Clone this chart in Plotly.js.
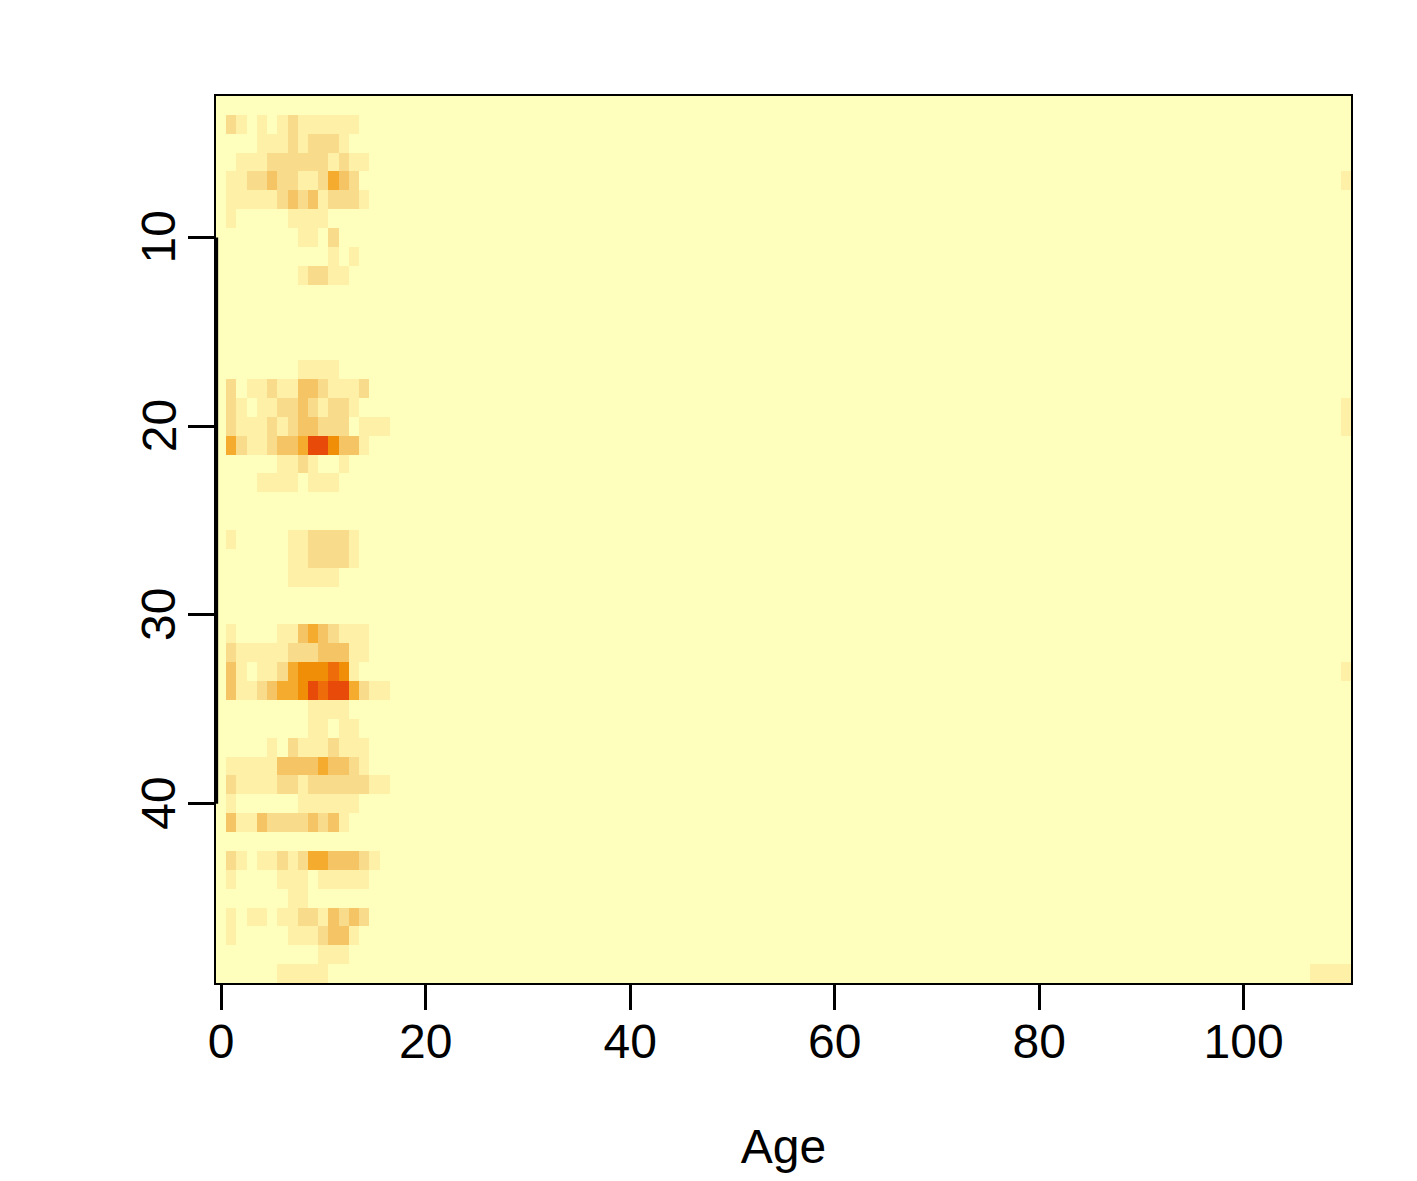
<!DOCTYPE html>
<html>
<head>
<meta charset="utf-8">
<script src="https://cdn.plot.ly/plotly-3.0.1.min.js"></script>
<style>
    html, body { margin: 0; padding: 0; background: white; }
    #plot { width: 1417px; height: 1181px; }
</style>
</head>
<body>
<div id="plot"></div>
<script>
const ages = Array.from({ length: 111 }, (_, i) => i);
const rows = Array.from({ length: 47 }, (_, i) => i + 3);
const xTicks = [0, 20, 40, 60, 80, 100];
const yTicks = [10, 20, 30, 40];

// colour step of each cell, ages 0 to 16, rows 3 to 49
const lowAgeLevels = [
    [0,0,0,0,0,0,0,0,0,0,0,0,0,0,0,0,0],
    [0,2,1,0,1,0,1,2,1,1,1,1,1,1,0,0,0],
    [0,0,0,0,1,1,1,2,1,2,2,2,1,0,0,0,0],
    [0,0,1,1,1,2,2,2,2,2,2,1,2,1,1,0,0],
    [0,1,1,2,2,3,2,2,1,1,2,4,3,2,0,0,0],
    [0,1,1,1,1,1,2,3,2,3,1,2,2,2,1,0,0],
    [0,1,0,0,0,0,0,1,1,1,1,0,0,0,0,0,0],
    [0,0,0,0,0,0,0,0,1,1,0,2,0,0,0,0,0],
    [0,0,0,0,0,0,0,0,0,0,0,1,0,1,0,0,0],
    [0,0,0,0,0,0,0,0,1,2,2,1,1,0,0,0,0],
    [0,0,0,0,0,0,0,0,0,0,0,0,0,0,0,0,0],
    [0,0,0,0,0,0,0,0,0,0,0,0,0,0,0,0,0],
    [0,0,0,0,0,0,0,0,0,0,0,0,0,0,0,0,0],
    [0,0,0,0,0,0,0,0,0,0,0,0,0,0,0,0,0],
    [0,0,0,0,0,0,0,0,1,1,1,1,0,0,0,0,0],
    [0,2,0,1,1,2,1,1,3,3,2,1,1,1,2,0,0],
    [0,2,1,0,1,1,2,2,3,2,1,2,2,1,0,0,0],
    [0,2,1,1,1,2,1,2,3,3,2,2,2,0,1,1,1],
    [0,4,2,1,1,2,3,3,4,7,7,5,3,3,1,0,0],
    [0,0,0,0,0,0,1,1,2,1,0,0,1,0,0,0,0],
    [0,0,0,0,1,1,1,1,0,1,1,1,0,0,0,0,0],
    [0,0,0,0,0,0,0,0,0,0,0,0,0,0,0,0,0],
    [0,0,0,0,0,0,0,0,0,0,0,0,0,0,0,0,0],
    [0,1,0,0,0,0,0,1,1,2,2,2,2,1,0,0,0],
    [0,0,0,0,0,0,0,1,1,2,2,2,2,1,0,0,0],
    [0,0,0,0,0,0,0,1,1,1,1,1,0,0,0,0,0],
    [0,0,0,0,0,0,0,0,0,0,0,0,0,0,0,0,0],
    [0,0,0,0,0,0,0,0,0,0,0,0,0,0,0,0,0],
    [0,1,0,0,0,0,1,1,3,4,3,2,1,1,1,0,0],
    [0,2,1,1,1,1,1,2,2,2,3,3,3,1,1,0,0],
    [0,3,1,0,1,1,2,4,5,5,5,6,5,1,0,0,0],
    [0,3,1,1,2,3,4,4,5,7,6,7,7,4,2,1,1],
    [0,0,0,0,0,0,0,0,0,1,1,1,1,0,0,0,0],
    [0,0,0,0,0,0,0,0,0,1,1,0,1,1,0,0,0],
    [0,0,0,0,0,1,0,2,1,1,1,2,1,1,1,0,0],
    [0,1,1,1,1,1,3,3,3,3,4,3,3,2,1,0,0],
    [0,2,1,1,1,1,2,2,1,2,2,2,2,2,2,1,1],
    [0,1,0,0,0,0,0,0,1,1,1,1,1,1,0,0,0],
    [0,3,1,1,3,2,2,2,2,3,2,3,1,0,0,0,0],
    [0,0,0,0,0,0,0,0,0,0,0,0,0,0,0,0,0],
    [0,2,1,0,1,1,2,1,2,4,4,3,3,3,2,1,0],
    [0,1,0,0,0,0,1,1,1,0,1,1,1,1,1,0,0],
    [0,0,0,0,0,0,0,1,1,0,0,0,0,0,0,0,0],
    [0,1,0,1,1,0,1,1,2,2,1,3,2,3,2,0,0],
    [0,1,0,0,0,0,0,1,1,1,2,3,3,1,0,0,0],
    [0,0,0,0,0,0,0,0,0,0,1,1,1,0,0,0,0],
    [0,0,0,0,0,0,1,1,1,1,1,0,0,0,0,0,0]
];

// the few cells at the very old end, ages 107 to 110
const tailAgeStart = 107;
const tailRows = [7, 19, 20, 33, 49];
const tailLevels = [
    [0,0,0,1],
    [0,0,0,1],
    [0,0,0,1],
    [0,0,0,1],
    [1,1,1,1]
];

const stepColors = ['#FFFFBD', '#FEF0A6', '#F8DC8C', '#F5C565', '#F4AB2E', '#F08E08', '#EE6C0A', '#E84A0A'];

const z = lowAgeLevels.map(r => r.concat(new Array(ages.length - r.length).fill(0)));
tailRows.forEach((row, i) => {
    tailLevels[i].forEach((v, j) => {
        z[rows.indexOf(row)][tailAgeStart + j] = v;
    });
});

const trace = {
    type: 'heatmap',
    x: ages,
    y: rows,
    z: z,
    zmin: 0,
    zmax: stepColors.length - 1,
    colorscale: stepColors.map((c, i) => [i / (stepColors.length - 1), c]),
    showscale: false,
    hoverongaps: false
};

const axisFont = { family: 'Liberation Sans, Arial, sans-serif', size: 48, color: 'black' };

const layout = {
    width: 1417,
    height: 1181,
    margin: { l: 216, r: 66, t: 96, b: 198 },
    paper_bgcolor: 'white',
    plot_bgcolor: 'white',
    showlegend: false,
    xaxis: {
        range: [-0.5, 110.5],
        tickmode: 'array',
        tickvals: xTicks,
        ticktext: xTicks.map(String),
        ticks: 'outside',
        ticklen: 25,
        tickwidth: 2.5,
        tickcolor: 'black',
        tickfont: axisFont,
        ticklabelstandoff: -9,
        showgrid: false,
        zeroline: false,
        showline: true,
        mirror: true,
        linecolor: 'black',
        linewidth: 1.5,
        title: { text: 'Age', font: axisFont, standoff: 62 }
    },
    yaxis: {
        range: [49.5, 2.5],
        tickmode: 'array',
        tickvals: yTicks,
        showticklabels: false,
        ticks: 'outside',
        ticklen: 26,
        tickwidth: 2.5,
        tickcolor: 'black',
        showgrid: false,
        zeroline: false,
        showline: true,
        mirror: true,
        linecolor: 'black',
        linewidth: 1.5
    },
    // y labels as annotations so the rotated text sits centred on its tick
    annotations: yTicks.map(t => ({
        text: String(t),
        xref: 'paper',
        yref: 'y',
        x: 0,
        y: t,
        xanchor: 'center',
        yanchor: 'middle',
        xshift: -57,
        textangle: -90,
        showarrow: false,
        font: axisFont
    })),
    shapes: [
        {
            // y axis line, runs between the first and last tick
            type: 'line',
            xref: 'paper',
            yref: 'y',
            x0: 0.0008,
            x1: 0.0008,
            y0: yTicks[0],
            y1: yTicks[yTicks.length - 1],
            line: { color: 'black', width: 2.5 }
        }
    ]
};

Plotly.newPlot('plot', [trace], layout, { displayModeBar: false });
</script>
</body>
</html>
